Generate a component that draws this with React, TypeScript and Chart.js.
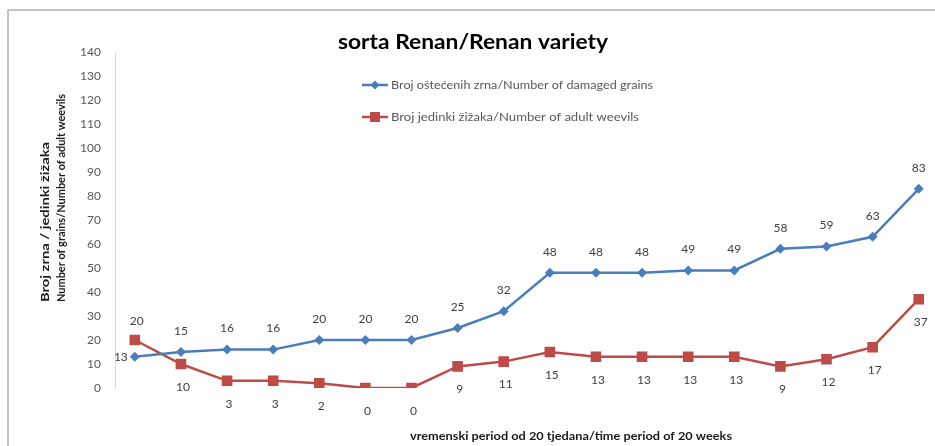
import React, { useEffect, useRef } from "react";
import { Chart, registerables } from "chart.js";

Chart.register(...registerables);

const weeks = ["1", "2", "3", "4", "5", "6", "7", "8", "9", "10", "11", "12", "13", "14", "15", "16", "17", "18"];
const damagedGrains = [13, 15, 16, 16, 20, 20, 20, 25, 32, 48, 48, 48, 49, 49, 58, 59, 63, 83];
const adultWeevils = [20, 10, 3, 3, 2, 0, 0, 9, 11, 15, 13, 13, 13, 13, 9, 12, 17, 37];
const yTicks = [0, 10, 20, 30, 40, 50, 60, 70, 80, 90, 100, 110, 120, 130, 140];

const titleText = "sorta Renan/Renan variety";
const seriesNames = [
  "Broj oštećenih zrna/Number of damaged grains",
  "Broj jedinki žižaka/Number of adult weevils",
];
const yTitleLines = ["Broj zrna / jedinki žižaka", "Number of grains/Number of adult weevils"];
const xTitleText = "vremenski period od 20 tjedana/time period of 20 weeks";

const BLUE = "#4a7ebb";
const RED = "#be4b48";
const FONT = "Lato, 'Open Sans', sans-serif";

function fitText(ctx: any, text: string, x: number, y: number, width: number) {
  const w = ctx.measureText(text).width;
  ctx.save();
  ctx.translate(x, y);
  ctx.scale(width / w, 1);
  ctx.fillText(text, 0, 0);
  ctx.restore();
}

export default function App() {
  const ref = useRef<HTMLCanvasElement | null>(null);

  useEffect(() => {
    if (!ref.current) return;

    const decor = {
      id: "decor",
      beforeDraw(chart: any) {
        const ctx = chart.ctx;
        ctx.save();
        ctx.strokeStyle = "#c4c4c4";
        ctx.lineWidth = 2;
        ctx.beginPath();
        ctx.moveTo(8, 446);
        ctx.lineTo(8, 10);
        ctx.lineTo(935, 10);
        ctx.stroke();
        ctx.restore();
      },
      afterDraw(chart: any) {
        const ctx = chart.ctx;
        ctx.save();
        // title
        ctx.fillStyle = "#000";
        ctx.font = `bold 21px ${FONT}`;
        ctx.textAlign = "left";
        ctx.textBaseline = "middle";
        fitText(ctx, titleText, 338, 42, 270);

        // legend
        const legendY = [85, 117];
        const legendW = [262, 248];
        const colors = [BLUE, RED];
        for (let i = 0; i < 2; i++) {
          const y = legendY[i];
          ctx.strokeStyle = colors[i];
          ctx.lineWidth = 2.5;
          ctx.beginPath();
          ctx.moveTo(362, y);
          ctx.lineTo(388, y);
          ctx.stroke();
          ctx.fillStyle = colors[i];
          ctx.beginPath();
          if (i === 0) {
            ctx.moveTo(375, y - 4.5);
            ctx.lineTo(379.5, y);
            ctx.lineTo(375, y + 4.5);
            ctx.lineTo(370.5, y);
            ctx.closePath();
          } else {
            ctx.rect(370, y - 5, 10, 10);
          }
          ctx.fill();
          ctx.fillStyle = "#595959";
          ctx.font = `11px ${FONT}`;
          ctx.textAlign = "left";
          fitText(ctx, seriesNames[i], 391, y, legendW[i]);
        }

        // y title
        ctx.fillStyle = "#1a1a1a";
        ctx.textAlign = "left";
        const xs = [46, 61];
        const fonts = [`bold 10.5px ${FONT}`, `bold 11px ${FONT}`];
        const lens = [160, 208];
        for (let i = 0; i < 2; i++) {
          ctx.save();
          ctx.font = fonts[i];
          ctx.translate(xs[i], 302);
          ctx.rotate(-Math.PI / 2);
          fitText(ctx, yTitleLines[i], 0, 0, lens[i]);
          ctx.restore();
        }

        // x title
        ctx.font = `bold 11.5px ${FONT}`;
        ctx.textAlign = "left";
        fitText(ctx, xTitleText, 410, 436, 322);

        // data labels
        ctx.fillStyle = "#404040";
        ctx.font = `12px ${FONT}`;
        ctx.textBaseline = "middle";
        const m0 = chart.getDatasetMeta(0);
        const m1 = chart.getDatasetMeta(1);
        m0.data.forEach((p: any, i: number) => {
          const v = damagedGrains[i];
          if (i === 0) {
            ctx.textAlign = "right";
            ctx.fillText(String(v), p.x - 7, p.y);
          } else {
            ctx.textAlign = "center";
            ctx.fillText(String(v), p.x, p.y - 21);
          }
        });
        m1.data.forEach((p: any, i: number) => {
          const v = adultWeevils[i];
          ctx.textAlign = "center";
          if (i === 0) {
            ctx.fillText(String(v), p.x + 2, p.y - 19);
          } else {
            ctx.fillText(String(v), p.x + 2, p.y + 23);
          }
        });
        ctx.restore();
      },
    };

    const chart = new Chart(ref.current, {
      type: "line",
      data: {
        labels: weeks,
        datasets: [
          {
            label: seriesNames[0],
            data: damagedGrains.map((v, i) => ({ x: i, y: v })),
            borderColor: BLUE,
            backgroundColor: BLUE,
            borderWidth: 2.5,
            pointStyle: "rectRot",
            pointRadius: 5,
            pointBorderWidth: 0,
            tension: 0,
          },
          {
            label: seriesNames[1],
            data: adultWeevils.map((v, i) => ({ x: i, y: v })),
            borderColor: RED,
            backgroundColor: RED,
            borderWidth: 2.5,
            pointStyle: "rect",
            pointRadius: 7.5,
            pointBorderWidth: 0,
            tension: 0,
          },
        ],
      },
      options: {
        animation: false,
        responsive: true,
        maintainAspectRatio: false,
        devicePixelRatio: 1,
        layout: { padding: { left: 0, right: 5, top: 52, bottom: 58 } },
        plugins: {
          legend: { display: false },
          title: { display: false },
          tooltip: { enabled: false },
        },
        scales: {
          x: {
            type: "linear",
            min: -0.43,
            max: 17.19,
            display: true,
            grid: { display: false, drawTicks: false },
            border: { display: false },
            ticks: { display: false },
            afterFit: (s: any) => {
              s.height = 0;
            },
          },
          y: {
            min: 0,
            max: 140,
            afterBuildTicks: (s: any) => {
              s.ticks = yTicks.map((v) => ({ value: v }));
            },
            grid: { display: false, drawTicks: false },
            border: { display: true, color: "#d9d9d9", width: 1 },
            ticks: {
              color: "#595959",
              font: { family: FONT, size: 12 },
              padding: 14,
            },
            afterFit: (s: any) => {
              s.width = 115;
            },
          },
        },
      },
      plugins: [decor],
    } as any);

    return () => chart.destroy();
  }, []);

  return (
    <div style={{ position: "absolute", left: 0, top: 0, width: 935, height: 446, overflow: "hidden", background: "#fff" }}>
      <canvas ref={ref} />
    </div>
  );
}
